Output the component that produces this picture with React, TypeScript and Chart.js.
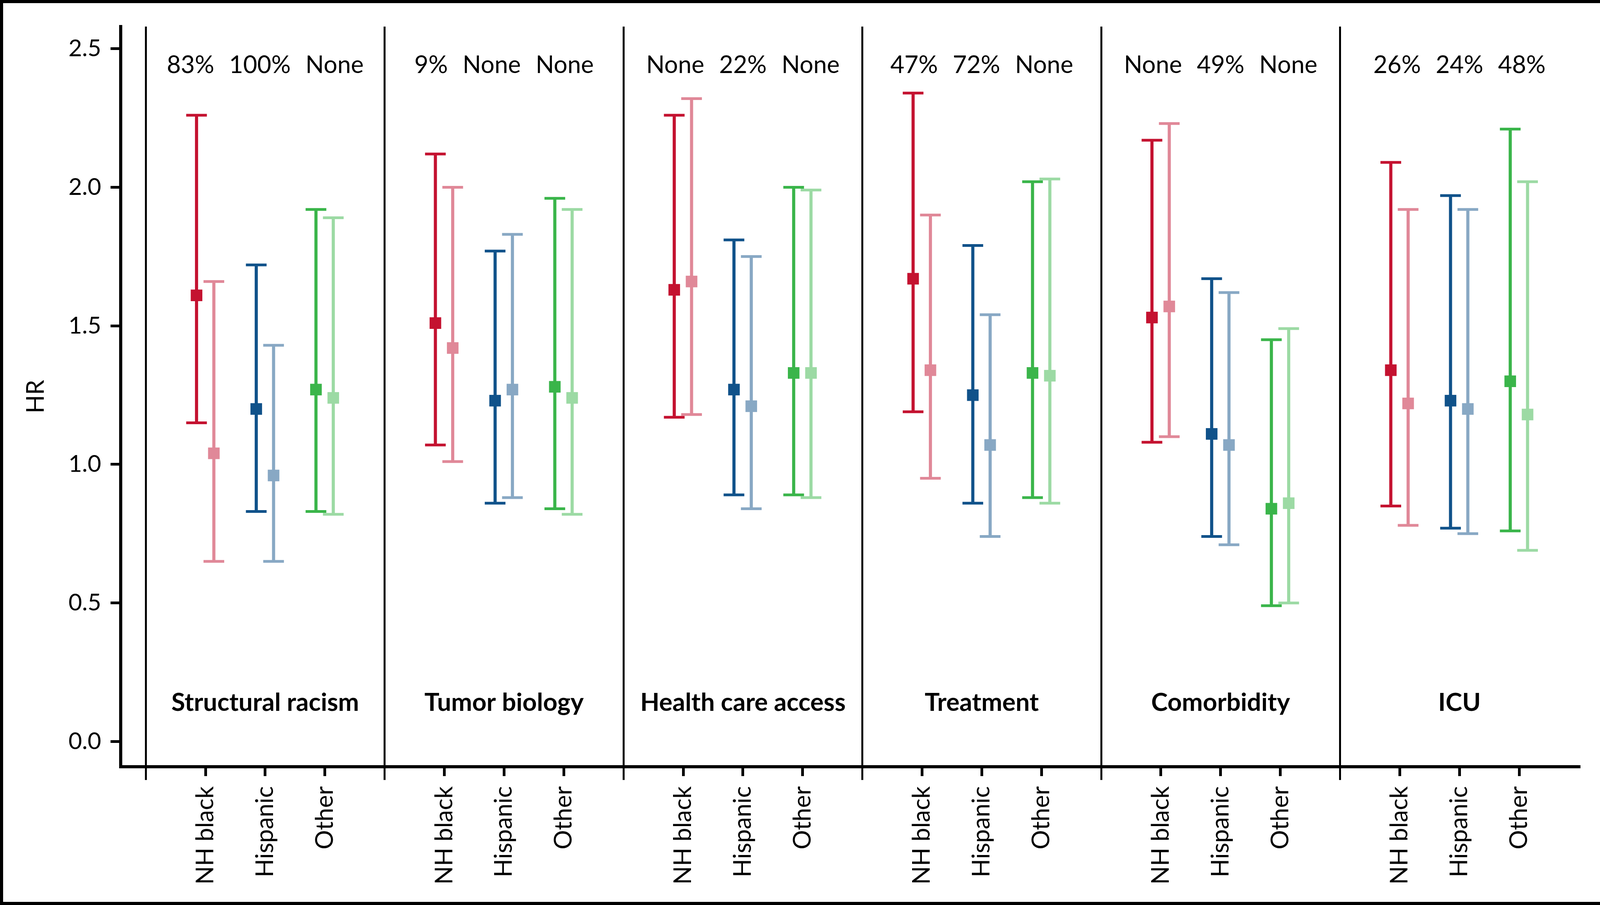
import { useEffect, useRef } from "react";
import { Chart, registerables } from "chart.js";

Chart.register(...registerables);

const groups = ["Structural racism", "Tumor biology", "Health care access", "Treatment", "Comorbidity", "ICU"];
const categories = ["NH black", "Hispanic", "Other"];
const groupNotes = [
  ["83%", "100%", "None"],
  ["9%", "None", "None"],
  ["None", "22%", "None"],
  ["47%", "72%", "None"],
  ["None", "49%", "None"],
  ["26%", "24%", "48%"],
];
const yTicks = [0, 0.5, 1, 1.5, 2, 2.5];

// dark = first estimate, light = second estimate; order per group: NH black, Hispanic, Other
const hrDark = [1.61, 1.2, 1.27, 1.51, 1.23, 1.28, 1.63, 1.27, 1.33, 1.67, 1.25, 1.33, 1.53, 1.11, 0.84, 1.34, 1.23, 1.3];
const loDark = [1.15, 0.83, 0.83, 1.07, 0.86, 0.84, 1.17, 0.89, 0.89, 1.19, 0.86, 0.88, 1.08, 0.74, 0.49, 0.85, 0.77, 0.76];
const hiDark = [2.26, 1.72, 1.92, 2.12, 1.77, 1.96, 2.26, 1.81, 2.0, 2.34, 1.79, 2.02, 2.17, 1.67, 1.45, 2.09, 1.97, 2.21];
const hrLight = [1.04, 0.96, 1.24, 1.42, 1.27, 1.24, 1.66, 1.21, 1.33, 1.34, 1.07, 1.32, 1.57, 1.07, 0.86, 1.22, 1.2, 1.18];
const loLight = [0.65, 0.65, 0.82, 1.01, 0.88, 0.82, 1.18, 0.84, 0.88, 0.95, 0.74, 0.86, 1.1, 0.71, 0.5, 0.78, 0.75, 0.69];
const hiLight = [1.66, 1.43, 1.89, 2.0, 1.83, 1.92, 2.32, 1.75, 1.99, 1.9, 1.54, 2.03, 2.23, 1.62, 1.49, 1.92, 1.92, 2.02];

const darkColors = ["#C41230", "#10528A", "#3AB54A"];
const lightColors = ["#E08898", "#88A8C4", "#9CDAA4"];

Chart.defaults.font.family = "Lato";
Chart.defaults.color = "#000";

const catPos = (i: number) => Math.floor(i / 3) * 4 + (i % 3) + 1;
const catTicks = hrDark.map((_, i) => catPos(i));
const sepTicks = groups.map((_, g) => g * 4);

const makePoints = (hr: number[], lo: number[], hi: number[], shift: number) =>
  hr.map((v, i) => ({ x: catPos(i) + shift, y: v, lo: lo[i], hi: hi[i] }));

// whiskers with caps, drawn under the square markers
const errorBars = {
  id: "errorBars",
  beforeDatasetsDraw(chart: any) {
    const { ctx } = chart;
    const xs = chart.scales.x;
    const ys = chart.scales.y;
    ctx.save();
    ctx.lineCap = "butt";
    chart.data.datasets.forEach((ds: any) => {
      ds.data.forEach((d: any, i: number) => {
        const px = xs.getPixelForValue(d.x);
        const top = ys.getPixelForValue(d.hi);
        const bot = ys.getPixelForValue(d.lo);
        ctx.strokeStyle = ds.pointBackgroundColor[i];
        ctx.lineWidth = 8;
        ctx.beginPath();
        ctx.moveTo(px, top);
        ctx.lineTo(px, bot);
        ctx.stroke();
        ctx.lineWidth = 7;
        ctx.beginPath();
        ctx.moveTo(px - 26.5, top);
        ctx.lineTo(px + 26.5, top);
        ctx.moveTo(px - 26.5, bot);
        ctx.lineTo(px + 26.5, bot);
        ctx.stroke();
      });
    });
    ctx.restore();
  },
};

// percentages on top and group names near the bottom of each panel
const panelText = {
  id: "panelText",
  afterDraw(chart: any) {
    const { ctx } = chart;
    const xs = chart.scales.x;
    const ys = chart.scales.y;
    ctx.save();
    ctx.fillStyle = "#000";
    ctx.textBaseline = "alphabetic";
    groups.forEach((name, g) => {
      const cx = xs.getPixelForValue(g * 4 + 2);
      ctx.font = "62px Lato";
      ctx.textAlign = "left";
      const words = groupNotes[g];
      const gap = 38;
      const widths = words.map((w) => ctx.measureText(w).width);
      const total = widths.reduce((a, b) => a + b, 0) + gap * (words.length - 1);
      let x = cx - total / 2;
      const yTop = ys.getPixelForValue(2.412);
      words.forEach((w, k) => {
        ctx.fillText(w, x, yTop);
        x += widths[k] + gap;
      });
      ctx.font = "bold 64px Lato";
      ctx.textAlign = "center";
      ctx.fillText(name, cx, ys.getPixelForValue(0.11));
    });
    ctx.restore();
  },
};

export default function App() {
  const chartRef = useRef<HTMLCanvasElement>(null);

  useEffect(() => {
    if (!chartRef.current) return;
    const chart = new Chart(chartRef.current, {
      type: "scatter",
      data: {
        datasets: [
          {
            label: "Estimate 1",
            data: makePoints(hrDark, loDark, hiDark, -0.15),
            pointStyle: "rect",
            pointRadius: 21,
            pointBorderWidth: 0,
            pointBackgroundColor: hrDark.map((_, i) => darkColors[i % 3]),
            pointBorderColor: hrDark.map((_, i) => darkColors[i % 3]),
            showLine: false,
          },
          {
            label: "Estimate 2",
            data: makePoints(hrLight, loLight, hiLight, 0.14),
            pointStyle: "rect",
            pointRadius: 21,
            pointBorderWidth: 0,
            pointBackgroundColor: hrLight.map((_, i) => lightColors[i % 3]),
            pointBorderColor: hrLight.map((_, i) => lightColors[i % 3]),
            showLine: false,
          },
        ],
      },
      options: {
        responsive: false,
        devicePixelRatio: 1,
        animation: false,
        layout: { padding: { top: 52, right: 58, left: 0, bottom: 0 } },
        plugins: {
          legend: { display: false },
          tooltip: { enabled: false },
        },
        scales: {
          xs: {
            type: "linear",
            position: "bottom",
            weight: 0,
            min: -0.42,
            max: 24,
            afterBuildTicks: (s: any) => {
              s.ticks = sepTicks.map((v) => ({ value: v }));
            },
            afterFit: (s: any) => {
              s.height = 0;
            },
            grid: { drawOnChartArea: true, color: "#000", lineWidth: 5, tickLength: 34 },
            border: { display: false },
            ticks: { display: false },
          },
          x: {
            type: "linear",
            position: "bottom",
            weight: 1,
            min: -0.42,
            max: 24,
            afterBuildTicks: (s: any) => {
              s.ticks = catTicks.map((v) => ({ value: v }));
            },
            afterFit: (s: any) => {
              s.height = 346;
            },
            grid: { drawOnChartArea: false, color: "#000", lineWidth: 7, tickLength: 24 },
            border: { display: true, color: "#000", width: 8 },
            ticks: {
              color: "#000",
              font: { size: 62 },
              minRotation: 90,
              maxRotation: 90,
              autoSkip: false,
              padding: 26,
              callback: (_v: any, i: number) => categories[i % 3],
            },
          },
          y: {
            type: "linear",
            min: -0.091,
            max: 2.58,
            afterBuildTicks: (s: any) => {
              s.ticks = yTicks.map((v) => ({ value: v }));
            },
            afterFit: (s: any) => {
              s.width = 301;
            },
            grid: { drawOnChartArea: false, color: "#000", lineWidth: 7, tickLength: 26 },
            border: { display: true, color: "#000", width: 8 },
            ticks: {
              color: "#000",
              font: { size: 60 },
              padding: 24,
              callback: (v: any) => Number(v).toFixed(1),
            },
            title: {
              display: true,
              text: "HR",
              color: "#000",
              font: { size: 62 },
              padding: { top: 47, bottom: 0 },
            },
          },
        },
      },
      plugins: [errorBars, panelText],
    });
    return () => chart.destroy();
  }, []);

  return (
    <div
      style={{
        position: "absolute",
        left: 0,
        top: 0,
        width: 4108,
        height: 2317,
        boxSizing: "border-box",
        border: "8px solid #000",
        background: "#fff",
      }}
    >
      <canvas
        ref={chartRef}
        width={4092}
        height={2301}
        style={{ display: "block", width: 4092, height: 2301 }}
        role="img"
        aria-label="Hazard ratios by race and ethnicity across adjustment models"
      ></canvas>
    </div>
  );
}
